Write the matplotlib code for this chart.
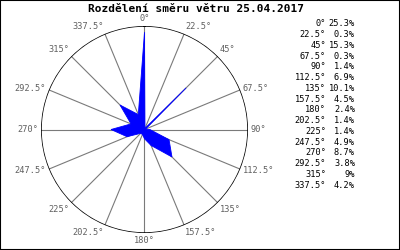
import numpy as np
import matplotlib
matplotlib.use('Agg')
import matplotlib.pyplot as plt
from matplotlib.patches import Rectangle

# wind direction distribution (percent of time per direction)
directions = [0, 22.5, 45, 67.5, 90, 112.5, 135, 157.5,
              180, 202.5, 225, 247.5, 270, 292.5, 315, 337.5]
shares = [25.3, 0.3, 15.3, 0.3, 1.4, 6.9, 10.1, 4.5,
          2.4, 1.4, 1.4, 4.9, 8.7, 3.8, 9, 4.2]
title = 'Rozdělení směru větru 25.04.2017'
r_max = 26.9

mono = 'DejaVu Sans Mono'
label_grey = '#606060'

fig = plt.figure(figsize=(4, 2.5), dpi=100)
fig.patch.set_facecolor('white')
ax = fig.add_axes([0.1025, 0.068, 0.5175, 0.828], projection='polar')
ax.set_theta_zero_location('N')
ax.set_theta_direction(-1)
ax.set_ylim(0, r_max)
ax.grid(False)
ax.set_xticks([])
ax.set_yticks([])
ax.spines['polar'].set_visible(False)
ax.patch.set_alpha(0)

# outer circle and spokes
circ = np.linspace(0, 2 * np.pi, 400)
ax.plot(circ, np.full_like(circ, r_max), color='black', lw=1.1, zorder=2)
for d in directions:
    t = np.deg2rad(d)
    ax.plot([t, t], [0, r_max], color='#7a7a7a', lw=0.8, zorder=1)

# the rose polygon
theta = np.deg2rad(directions + [directions[0]])
rad = shares + [shares[0]]
ax.fill(theta, rad, facecolor='#0000ff', edgecolor='#0000ff', lw=0.6, zorder=4)

# direction labels just outside the circle
for d in directions:
    t = np.deg2rad(d)
    s, c = np.sin(t), np.cos(t)
    if s > 0.01:
        ha = 'left'
    elif s < -0.01:
        ha = 'right'
    else:
        ha = 'center'
    if c > 0.5:
        va = 'bottom'
    elif c < -0.5:
        va = 'top'
    else:
        va = 'center'
    ax.annotate(f'{d:g}°', xy=(t, r_max), xytext=(3 * s, 3 * c),
                textcoords='offset pixels', ha=ha, va=va,
                fontsize=6.2, family=mono, color=label_grey,
                annotation_clip=False)

fig.text(0.49, 1 - 9 / 250, title, ha='center', va='center',
         fontsize=8, fontweight='bold', family=mono, color='black')

# legend table on the right
rows_y = np.linspace(24, 185, len(directions))
for d, v, y in zip(directions, shares, rows_y):
    fig.text(326 / 400, 1 - y / 250, f'{d:g}°', ha='right', va='center',
             fontsize=6.2, family=mono, color='black')
    fig.text(355 / 400, 1 - y / 250, f'{v:g}%', ha='right', va='center',
             fontsize=6.2, family=mono, color='black')

fig.patches.append(Rectangle((0, 0), 1, 1, transform=fig.transFigure,
                             fill=False, edgecolor='black', lw=1.5))

fig.savefig('out.png', dpi=100)
